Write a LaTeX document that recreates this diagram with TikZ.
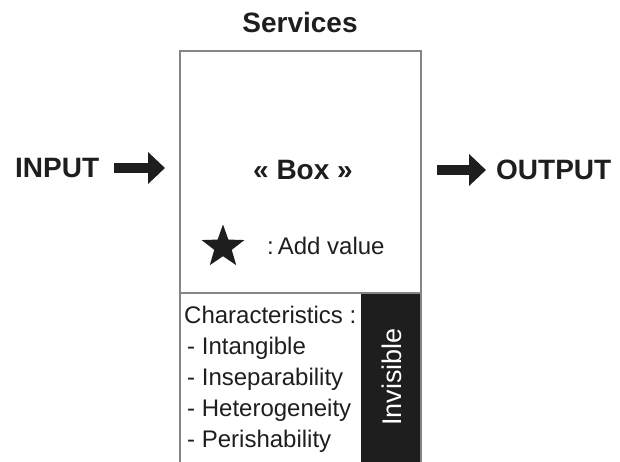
\documentclass[tikz,border=0pt]{standalone}
\usepackage{fontspec}
\setmainfont{Liberation Sans}
\usetikzlibrary{arrows.meta,shapes.geometric}
\definecolor{ink}{HTML}{1E1E1E}
\definecolor{frame}{HTML}{858585}
\begin{document}
\begin{tikzpicture}[x=1pt,y=-1pt,
  heading/.style={inner sep=0pt,text=ink,font=\fontsize{28}{30}\selectfont\bfseries},
  plain/.style={inner sep=0pt,text=ink,font=\fontsize{24}{26}\selectfont,anchor=base west},
  bigarrow/.style={draw=ink,line width=9.5pt,-{Triangle[length=17pt,width=31pt]}},
  boxframe/.style={draw=frame,line width=2pt}]
  \useasboundingbox (0,0) rectangle (620,461);

  % the service box, running off the lower edge
  \fill[ink] (361,293) rectangle (421,475);
  \draw[boxframe] (180,51) rectangle (421,475);
  \draw[boxframe] (180,293) -- (421,293);
  \node[draw=none,inner sep=0pt,minimum width=241pt,minimum height=242pt,anchor=north west] (box) at (180,51) {};

  % titles
  \node[heading] (title) at (300,22) {Services};
  \node[heading] (inner) at (303,170) {« Box »};
  \node[heading,anchor=west] (in) at (15,168) {INPUT};
  \node[heading,anchor=west] (out) at (496,170) {OUTPUT};

  % flow arrows
  \draw[bigarrow] ([xshift=15pt]in.east) -- ([xshift=-15pt]box.west |- in.east);
  \draw[bigarrow] ([xshift=16pt]box.east |- out.west) -- ([xshift=-10pt]out.west);

  % value marker
  \node[star,star points=5,star point ratio=2.45,fill=ink,minimum size=45pt,inner sep=0pt] (star) at (223,247) {};
  \node[plain,anchor=west] (value) at (267,246) {:\,Add value};

  % characteristics
  \node[plain] (c0) at (184,323) {Characteristics :};
  \node[plain] (c1) at (187,354) {- Intangible};
  \node[plain] (c2) at (187,385) {- Inseparability};
  \node[plain] (c3) at (187,416) {- Heterogeneity};
  \node[plain] (c4) at (187,447) {- Perishability};

  \node[inner sep=0pt,text=white,rotate=90,font=\fontsize{27}{29}\selectfont] (inv) at (392,377) {Invisible};
\end{tikzpicture}
\end{document}
